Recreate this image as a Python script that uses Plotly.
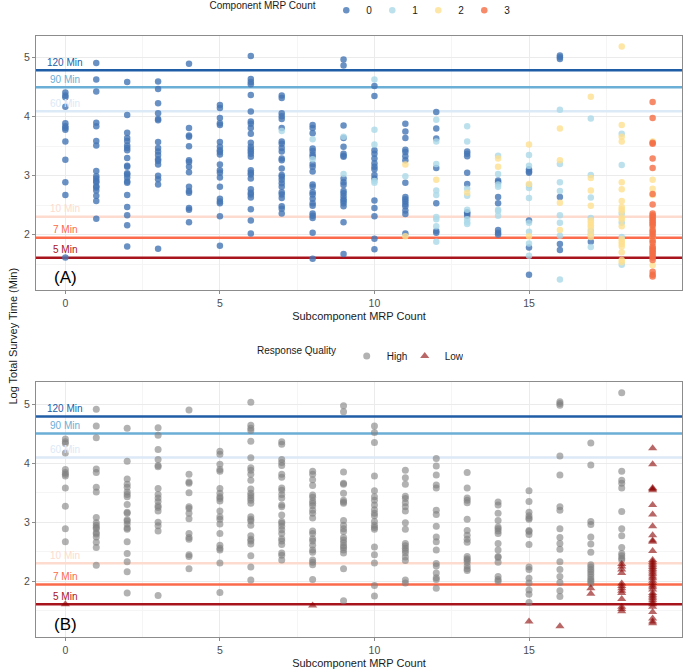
import plotly.graph_objects as go
from plotly.subplots import make_subplots

# log total survey time per subcomponent MRP count (0..19)
# each point: (log time, component MRP count, response quality H/L)
sub_0 = [(4.41, 0, "H"), (4.36, 0, "H"), (4.33, 0, "H"), (4.17, 0, "H"), (3.89, 0, "H"), (3.84, 0, "H"),
         (3.81, 0, "H"), (3.78, 0, "H"), (3.58, 0, "H"), (3.27, 0, "H"), (2.89, 0, "H"), (2.67, 0, "H"),
         (1.61, 0, "L")]
sub_1 = [(4.91, 0, "H"), (4.63, 0, "H"), (4.43, 0, "H"), (3.90, 0, "H"), (3.84, 0, "H"), (3.59, 0, "H"),
         (3.51, 0, "H"), (3.08, 0, "H"), (2.99, 0, "H"), (2.95, 0, "H"), (2.91, 0, "H"), (2.89, 0, "H"),
         (2.82, 0, "H"), (2.80, 0, "H"), (2.75, 0, "H"), (2.66, 0, "H"), (2.57, 0, "H"), (2.27, 0, "H")]
sub_2 = [(4.59, 0, "H"), (4.03, 0, "H"), (3.73, 0, "H"), (3.64, 0, "H"), (3.59, 0, "H"), (3.51, 0, "H"),
         (3.47, 0, "H"), (3.43, 0, "H"), (3.30, 0, "H"), (3.17, 0, "H"), (3.15, 0, "H"), (3.04, 0, "H"),
         (3.02, 0, "H"), (2.97, 0, "H"), (2.90, 0, "H"), (2.88, 0, "H"), (2.67, 0, "H"), (2.47, 0, "H"),
         (2.33, 0, "H"), (2.16, 0, "H"), (1.80, 0, "H")]
sub_3 = [(4.60, 0, "H"), (4.47, 0, "H"), (4.23, 0, "H"), (4.06, 0, "H"), (3.96, 0, "H"), (3.94, 0, "H"),
         (3.57, 0, "H"), (3.47, 0, "H"), (3.41, 0, "H"), (3.35, 0, "H"), (3.28, 0, "H"), (3.25, 0, "H"),
         (3.19, 0, "H"), (3.00, 0, "H"), (2.94, 0, "H"), (2.85, 0, "H"), (1.76, 0, "H")]
sub_4 = [(4.90, 0, "H"), (3.81, 0, "H"), (3.68, 0, "H"), (3.66, 0, "H"), (3.50, 0, "H"), (3.26, 0, "H"),
         (3.23, 0, "H"), (3.15, 0, "H"), (3.06, 0, "H"), (2.81, 0, "H"), (2.74, 0, "H"), (2.71, 0, "H"),
         (2.45, 0, "H"), (2.42, 0, "H"), (2.21, 0, "H")]
sub_5 = [(4.20, 0, "H"), (4.15, 0, "H"), (3.98, 0, "H"), (3.89, 0, "H"), (3.86, 0, "H"), (3.57, 0, "H"),
         (3.49, 0, "H"), (3.43, 0, "H"), (3.40, 0, "H"), (3.36, 0, "H"), (3.19, 0, "H"), (3.09, 0, "H"),
         (3.05, 0, "H"), (2.97, 0, "H"), (2.81, 0, "H"), (2.61, 0, "H"), (2.56, 0, "H"), (2.53, 0, "H"),
         (2.31, 0, "H"), (1.81, 0, "H")]
sub_6 = [(5.03, 0, "H"), (4.64, 0, "H"), (4.59, 0, "H"), (4.55, 0, "H"), (4.37, 0, "H"), (4.09, 0, "H"),
         (3.92, 0, "H"), (3.88, 0, "H"), (3.81, 0, "H"), (3.71, 0, "H"), (3.56, 0, "H"), (3.49, 0, "H"),
         (3.45, 0, "H"), (3.41, 0, "H"), (3.37, 0, "H"), (3.32, 0, "H"), (3.09, 0, "H"), (3.05, 0, "H"),
         (3.02, 0, "H"), (2.95, 0, "H"), (2.77, 0, "H"), (2.71, 0, "H"), (2.68, 0, "H"), (2.63, 0, "H"),
         (2.43, 0, "H"), (2.24, 0, "H"), (2.02, 0, "H")]
sub_7 = [(4.36, 0, "H"), (4.32, 0, "H"), (4.06, 0, "H"), (4.01, 0, "H"), (3.96, 0, "H"), (3.81, 0, "H"),
         (3.76, 1, "H"), (3.58, 0, "H"), (3.54, 0, "H"), (3.47, 0, "H"), (3.41, 0, "H"), (3.29, 0, "H"),
         (3.26, 0, "H"), (3.12, 0, "H"), (3.01, 0, "H"), (2.98, 0, "H"), (2.93, 0, "H"), (2.87, 0, "H"),
         (2.81, 0, "H"), (2.72, 0, "H"), (2.68, 0, "H"), (2.62, 0, "H"), (2.48, 0, "H"), (2.44, 0, "H"),
         (2.36, 0, "H")]
sub_8 = [(3.86, 0, "H"), (3.81, 0, "H"), (3.72, 0, "H"), (3.62, 1, "H"), (3.46, 0, "H"), (3.42, 0, "H"),
         (3.36, 0, "H"), (3.32, 0, "H"), (3.28, 1, "H"), (3.20, 0, "H"), (3.15, 0, "H"), (3.07, 0, "H"),
         (2.85, 0, "H"), (2.81, 0, "H"), (2.72, 0, "H"), (2.68, 0, "H"), (2.61, 0, "H"), (2.53, 0, "H"),
         (2.49, 0, "H"), (2.36, 0, "H"), (2.32, 0, "H"), (2.28, 0, "H"), (2.03, 0, "H"), (1.59, 0, "L")]
sub_9 = [(4.97, 0, "H"), (4.87, 0, "H"), (3.85, 0, "H"), (3.66, 1, "H"), (3.64, 0, "H"), (3.49, 0, "H"),
         (3.37, 0, "H"), (3.34, 0, "H"), (3.32, 0, "H"), (3.03, 1, "H"), (2.95, 0, "H"), (2.89, 0, "H"),
         (2.84, 0, "H"), (2.74, 0, "H"), (2.70, 0, "H"), (2.65, 0, "H"), (2.60, 0, "H"), (2.57, 0, "H"),
         (2.53, 0, "H"), (2.48, 0, "H"), (2.21, 0, "H"), (1.67, 0, "H")]
sub_10 = [(4.63, 1, "H"), (4.52, 0, "H"), (4.35, 0, "H"), (3.78, 1, "H"), (3.53, 1, "H"), (3.43, 0, "H"),
          (3.37, 0, "H"), (3.29, 0, "H"), (3.21, 0, "H"), (3.15, 0, "H"), (3.11, 0, "H"), (3.01, 0, "H"),
          (2.95, 0, "H"), (2.91, 1, "H"), (2.88, 1, "H"), (2.58, 0, "H"), (2.45, 0, "H"), (2.31, 0, "H"),
          (1.93, 0, "H"), (1.75, 0, "H")]
sub_11 = [(3.88, 0, "H"), (3.75, 0, "H"), (3.64, 0, "H"), (3.44, 0, "H"), (3.40, 0, "H"), (3.33, 0, "H"),
          (3.26, 0, "H"), (3.19, 2, "H"), (2.99, 1, "H"), (2.88, 0, "H"), (2.64, 0, "H"), (2.60, 0, "H"),
          (2.56, 0, "H"), (2.52, 0, "H"), (2.48, 0, "H"), (2.41, 0, "H"), (2.35, 0, "H"), (2.02, 0, "H"),
          (1.97, 2, "H")]
sub_12 = [(4.08, 0, "H"), (3.95, 1, "H"), (3.80, 0, "H"), (3.63, 0, "H"), (3.58, 1, "H"), (3.20, 1, "H"),
          (3.13, 0, "H"), (2.93, 2, "H"), (2.75, 1, "H"), (2.67, 1, "H"), (2.53, 0, "H"), (2.30, 1, "H"),
          (2.26, 1, "H"), (2.14, 1, "H"), (2.06, 0, "H"), (2.03, 0, "H"), (1.88, 1, "H")]
sub_13 = [(3.84, 1, "H"), (3.58, 1, "H"), (3.41, 0, "H"), (3.37, 0, "H"), (3.33, 0, "H"), (3.05, 0, "H"),
          (2.86, 0, "H"), (2.78, 1, "H"), (2.71, 2, "H"), (2.66, 1, "H"), (2.42, 1, "H"), (2.38, 0, "H"),
          (2.36, 0, "H"), (2.32, 0, "H"), (2.26, 1, "H"), (2.21, 1, "H"), (2.18, 1, "H")]
sub_14 = [(3.34, 1, "H"), (3.29, 2, "H"), (3.15, 2, "H"), (3.03, 1, "H"), (2.92, 0, "H"), (2.89, 0, "H"),
          (2.85, 1, "H"), (2.81, 1, "H"), (2.64, 0, "H"), (2.53, 0, "H"), (2.42, 1, "H"), (2.40, 1, "H"),
          (2.32, 1, "H"), (2.08, 0, "H"), (2.03, 0, "H"), (2.00, 0, "H")]
sub_15 = [(3.53, 2, "H"), (3.35, 1, "H"), (3.17, 1, "H"), (3.11, 0, "H"), (3.07, 0, "H"), (3.05, 0, "H"),
          (2.86, 2, "H"), (2.84, 1, "H"), (2.79, 1, "H"), (2.62, 1, "H"), (2.24, 0, "H"), (2.20, 1, "H"),
          (2.05, 1, "H"), (1.97, 2, "H"), (1.85, 1, "H"), (1.78, 0, "H"), (1.64, 1, "H"), (1.32, 0, "L")]
sub_16 = [(5.04, 0, "H"), (5.01, 0, "H"), (4.98, 0, "H"), (4.12, 1, "H"), (3.80, 2, "H"), (3.26, 2, "H"),
          (3.20, 1, "H"), (2.89, 1, "H"), (2.74, 1, "H"), (2.64, 0, "H"), (2.54, 2, "H"), (2.33, 1, "H"),
          (2.20, 1, "H"), (2.08, 2, "H"), (1.98, 1, "H"), (1.84, 0, "H"), (1.74, 0, "H"), (1.24, 1, "L")]
sub_17 = [(4.34, 2, "H"), (3.97, 1, "H"), (3.01, 1, "H"), (2.96, 2, "H"), (2.75, 2, "H"), (2.63, 1, "H"),
          (2.49, 2, "H"), (2.28, 1, "H"), (2.24, 2, "H"), (2.20, 2, "H"), (2.16, 2, "H"), (2.12, 2, "H"),
          (2.07, 1, "H"), (2.03, 2, "H"), (2.00, 1, "H"), (1.96, 2, "H"), (1.88, 0, "L"), (1.79, 1, "L")]
sub_18 = [(5.19, 2, "H"), (3.86, 2, "H"), (3.71, 1, "H"), (3.66, 2, "H"), (3.58, 2, "H"), (3.18, 1, "H"),
          (2.89, 2, "H"), (2.77, 2, "H"), (2.57, 2, "H"), (2.47, 2, "H"), (2.43, 2, "H"), (2.39, 2, "H"),
          (2.36, 1, "H"), (2.29, 2, "L"), (2.25, 2, "L"), (2.20, 1, "L"), (2.14, 2, "L"), (1.96, 1, "L"),
          (1.92, 2, "L"), (1.88, 2, "L"), (1.84, 2, "L"), (1.80, 2, "L"), (1.70, 2, "L"), (1.57, 2, "L"),
          (1.53, 2, "L"), (1.49, 1, "L")]
sub_19 = [(4.25, 3, "L"), (3.98, 3, "L"), (3.58, 2, "L"), (3.56, 3, "L"), (3.54, 3, "L"), (3.29, 3, "L"),
          (3.13, 3, "L"), (2.93, 2, "L"), (2.78, 2, "L"), (2.69, 3, "L"), (2.67, 2, "L"), (2.51, 3, "L"),
          (2.36, 3, "L"), (2.33, 3, "L"), (2.30, 3, "L"), (2.27, 3, "L"), (2.24, 3, "L"), (2.21, 3, "L"),
          (2.18, 3, "L"), (2.15, 3, "L"), (2.12, 2, "L"), (2.08, 3, "L"), (2.05, 3, "L"), (2.01, 3, "L"),
          (1.97, 3, "L"), (1.93, 2, "L"), (1.90, 3, "L"), (1.86, 3, "L"), (1.80, 3, "L"), (1.77, 3, "L"),
          (1.74, 3, "L"), (1.71, 3, "L"), (1.68, 3, "L"), (1.64, 3, "L"), (1.61, 3, "L"), (1.57, 3, "L"),
          (1.48, 2, "L"), (1.37, 3, "L"), (1.32, 3, "L"), (1.29, 3, "L")]

columns = [sub_0, sub_1, sub_2, sub_3, sub_4, sub_5, sub_6, sub_7, sub_8, sub_9,
           sub_10, sub_11, sub_12, sub_13, sub_14, sub_15, sub_16, sub_17, sub_18, sub_19]

# reference lines: minutes and their natural log
ref_minutes = [120, 90, 60, 10, 7, 5]
ref_log = [4.787, 4.500, 4.094, 2.303, 1.946, 1.609]
ref_labels = ["120 Min", "90 Min", "60 Min", "10 Min", "7 Min", "5 Min"]
ref_colors = ["#1F5DA6", "#6BAED6", "#DCE9F6", "#FDDCCF", "#FB6A4A", "#A8141C"]

comp_levels = [0, 1, 2, 3]
comp_colors = ["#4575B4", "#ABD9E9", "#FEE090", "#F46D43"]

x_range = [-0.95, 19.95]
y_range = [1.056, 5.37]

# flatten
xs, ys, comps, quals = [], [], [], []
for sub, pts in enumerate(columns):
    for y, c, q in pts:
        xs.append(sub)
        ys.append(y)
        comps.append(c)
        quals.append(q)

fig = make_subplots(rows=2, cols=1)

# reference lines first so the points sit on top of them
for r in (1, 2):
    for yv, lab, col in zip(ref_log, ref_labels, ref_colors):
        fig.add_trace(go.Scatter(x=x_range, y=[yv, yv], mode="lines",
                                 line=dict(color=col, width=2.5),
                                 showlegend=False, hoverinfo="skip"), row=r, col=1)
        fig.add_annotation(x=0, y=yv, text=lab, showarrow=False, yshift=8,
                           font=dict(size=10, color=col), row=r, col=1)
    fig.add_annotation(x=0, y=1.27, text="(A)" if r == 1 else "(B)", showarrow=False,
                       font=dict(size=17, color="black"), row=r, col=1)

for lvl, col in zip(comp_levels, comp_colors):
    idx = [i for i in range(len(xs)) if comps[i] == lvl]
    fig.add_trace(go.Scatter(
        x=[xs[i] for i in idx], y=[ys[i] for i in idx], mode="markers",
        name=str(lvl), legend="legend",
        marker=dict(color=col, size=6.5, opacity=0.8, line=dict(width=0))),
        row=1, col=1)

for q, name, col, sym in [("H", "High", "#7F7F7F", "circle"), ("L", "Low", "#8B0000", "triangle-up")]:
    idx = [i for i in range(len(xs)) if quals[i] == q]
    fig.add_trace(go.Scatter(
        x=[xs[i] for i in idx], y=[ys[i] for i in idx], mode="markers",
        name=name, legend="legend2",
        marker=dict(color=col, size=7 if sym == "circle" else 8, symbol=sym, opacity=0.6, line=dict(width=0))),
        row=2, col=1)

axis_style = dict(
    showline=True, mirror=True, linecolor="#8C8C8C", linewidth=1,
    ticks="outside", ticklen=3, tickcolor="#8C8C8C",
    gridcolor="#EBEBEB", zeroline=False, automargin=False,
    tickfont=dict(size=10.5, color="#4D4D4D"),
)
fig.update_xaxes(range=x_range, tick0=0, dtick=5,
                 minor=dict(dtick=2.5, showgrid=True, gridcolor="#F5F5F5"),
                 title=dict(text="Subcomponent MRP Count", font=dict(size=11, color="#1A1A1A"), standoff=4),
                 **axis_style)
fig.update_yaxes(range=y_range, tick0=0, dtick=1,
                 minor=dict(dtick=0.5, showgrid=True, gridcolor="#F5F5F5"),
                 **axis_style)

fig.update_layout(
    width=685, height=669,
    margin=dict(l=36, r=3, t=36, b=32, autoexpand=False),
    plot_bgcolor="white", paper_bgcolor="white",
    font=dict(family="Liberation Sans, Arial, sans-serif", color="#1A1A1A"),
    xaxis=dict(domain=[0, 1]), yaxis=dict(domain=[0.577, 1]),
    xaxis2=dict(domain=[0, 1]), yaxis2=dict(domain=[0, 0.424]),
    legend=dict(orientation="h", x=0.5, xanchor="center", y=1.043, yanchor="middle",
                title=dict(text="Component MRP Count ", side="left", font=dict(size=10)),
                font=dict(size=10), itemwidth=30, entrywidth=1),
    legend2=dict(orientation="h", x=0.5, xanchor="center", y=0.4676, yanchor="middle",
                 title=dict(text="Response Quality ", side="left", font=dict(size=10)),
                 font=dict(size=10), itemwidth=30, entrywidth=13),
    annotations=list(fig.layout.annotations) + [
        dict(text="Log Total Survey Time (Min)", xref="paper", yref="paper",
             x=-0.037, y=0.5, textangle=-90, showarrow=False,
             xanchor="center", yanchor="middle", font=dict(size=11, color="#1A1A1A"))
    ],
)

# drop the default page margin so the figure sits at the window's top-left corner
fig.write_html("out.html", config={"displayModeBar": False},
               post_script="document.body.style.margin='0';")
